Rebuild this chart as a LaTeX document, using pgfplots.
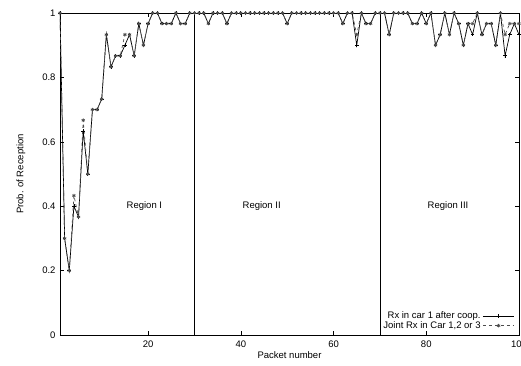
\documentclass[border=0pt]{standalone}
\usepackage{pgfplots}
\pgfplotsset{compat=1.18}
\usepackage{fontspec}
\setmainfont{Liberation Sans}
\begin{document}
\begin{tikzpicture}
\begin{axis}[
  scale only axis, width=459pt, height=322pt,
  xmin=1, xmax=100, ymin=0, ymax=1,
  xtick={20,40,60,80,100}, ytick={0,0.2,0.4,0.6,0.8,1},
  yticklabels={0,0.2,0.4,0.6,0.8,1},
  tick align=inside, major tick length=4pt,
  tick style={black, line width=0.6pt},
  axis line style={line width=0.8pt},
  /pgf/number format/assume math mode=true,
  ticklabel style={font=\fontsize{9.5}{11}\selectfont},
  xticklabel style={yshift=-2pt},
  yticklabel style={xshift=-1pt},
  xlabel={Packet number}, ylabel={Prob. of Reception},
  label style={font=\fontsize{9.5}{11}\selectfont},
  xlabel style={yshift=3pt},
  ylabel style={yshift=10pt},
  legend style={at={(0.993,0.006)}, anchor=south east, draw=none, fill=none,
    font=\fontsize{9.5}{10}\selectfont, row sep=-3pt, inner sep=1pt},
  legend cell align=right, legend plot pos=right,
  legend image code/.code={\draw[mark repeat=2,mark phase=2,#1] plot coordinates {(0cm,0cm) (0.55cm,0cm) (1.1cm,0cm)};},
]
\addplot[black, line width=0.7pt, mark=+, mark size=1.8pt] coordinates {
(1,1.0)(2,0.3)(3,0.2)(4,0.4)(5,0.367)(6,0.633)(7,0.5)(8,0.7)(9,0.7)(10,0.733)
(11,0.933)(12,0.833)(13,0.867)(14,0.867)(15,0.9)(16,0.933)(17,0.867)(18,0.967)(19,0.9)(20,0.967)
(21,1)(22,1)(23,0.967)(24,0.967)(25,0.967)(26,1)(27,0.967)(28,0.967)(29,1)(30,1)
(31,1)(32,1)(33,0.967)(34,1)(35,1)(36,1)(37,0.967)(38,1)(39,1)(40,1)
(41,1)(42,1)(43,1)(44,1)(45,1)(46,1)(47,1)(48,1)(49,1)(50,0.967)
(51,1)(52,1)(53,1)(54,1)(55,1)(56,1)(57,1)(58,1)(59,1)(60,1)
(61,1)(62,0.967)(63,1)(64,1)(65,0.9)(66,1)(67,0.967)(68,0.967)(69,1)(70,1)
(71,1)(72,0.933)(73,1)(74,1)(75,1)(76,1)(77,0.967)(78,0.967)(79,1)(80,0.967)
(81,1)(82,0.9)(83,0.933)(84,1)(85,0.933)(86,1)(87,0.967)(88,0.9)(89,0.967)(90,0.933)
(91,1)(92,0.933)(93,0.967)(94,0.967)(95,0.9)(96,1)(97,0.867)(98,0.933)(99,0.967)(100,0.933)
};
\addlegendentry{Rx in car 1 after coop.}
\addplot[gray!60!black, dashed, line width=0.7pt, mark=asterisk, mark size=1.8pt, mark options={solid}] coordinates {
(1,1.0)(2,0.3)(3,0.2)(4,0.433)(5,0.367)(6,0.667)(7,0.5)(8,0.7)(9,0.7)(10,0.733)
(11,0.933)(12,0.833)(13,0.867)(14,0.867)(15,0.933)(16,0.933)(17,0.867)(18,0.967)(19,0.9)(20,0.967)
(21,1)(22,1)(23,0.967)(24,0.967)(25,0.967)(26,1)(27,0.967)(28,0.967)(29,1)(30,1)
(31,1)(32,1)(33,0.967)(34,1)(35,1)(36,1)(37,0.967)(38,1)(39,1)(40,1)
(41,1)(42,1)(43,1)(44,1)(45,1)(46,1)(47,1)(48,1)(49,1)(50,0.967)
(51,1)(52,1)(53,1)(54,1)(55,1)(56,1)(57,1)(58,1)(59,1)(60,1)
(61,1)(62,0.967)(63,1)(64,1)(65,0.933)(66,1)(67,0.967)(68,0.967)(69,1)(70,1)
(71,1)(72,0.933)(73,1)(74,1)(75,1)(76,1)(77,0.967)(78,0.967)(79,1)(80,0.967)
(81,1)(82,0.9)(83,0.933)(84,1)(85,0.933)(86,1)(87,0.967)(88,0.9)(89,0.967)(90,0.967)
(91,1)(92,0.933)(93,0.967)(94,0.967)(95,0.9)(96,1)(97,0.933)(98,0.967)(99,0.967)(100,0.967)
};
\addlegendentry{Joint Rx in Car 1,2 or 3}
\addplot[black, line width=0.8pt, forget plot] coordinates {(30,0)(30,1)};
\addplot[black, line width=0.8pt, forget plot] coordinates {(70,0)(70,1)};
\node[font=\fontsize{9.5}{11}\selectfont] at (axis cs:19.2,0.40) {Region I};
\node[font=\fontsize{9.5}{11}\selectfont] at (axis cs:44.5,0.40) {Region II};
\node[font=\fontsize{9.5}{11}\selectfont] at (axis cs:84.7,0.40) {Region III};
\end{axis}
\pgfresetboundingbox
\path[use as bounding box] (-60pt,-30pt) rectangle (461pt,335pt);
\end{tikzpicture}
\end{document}
